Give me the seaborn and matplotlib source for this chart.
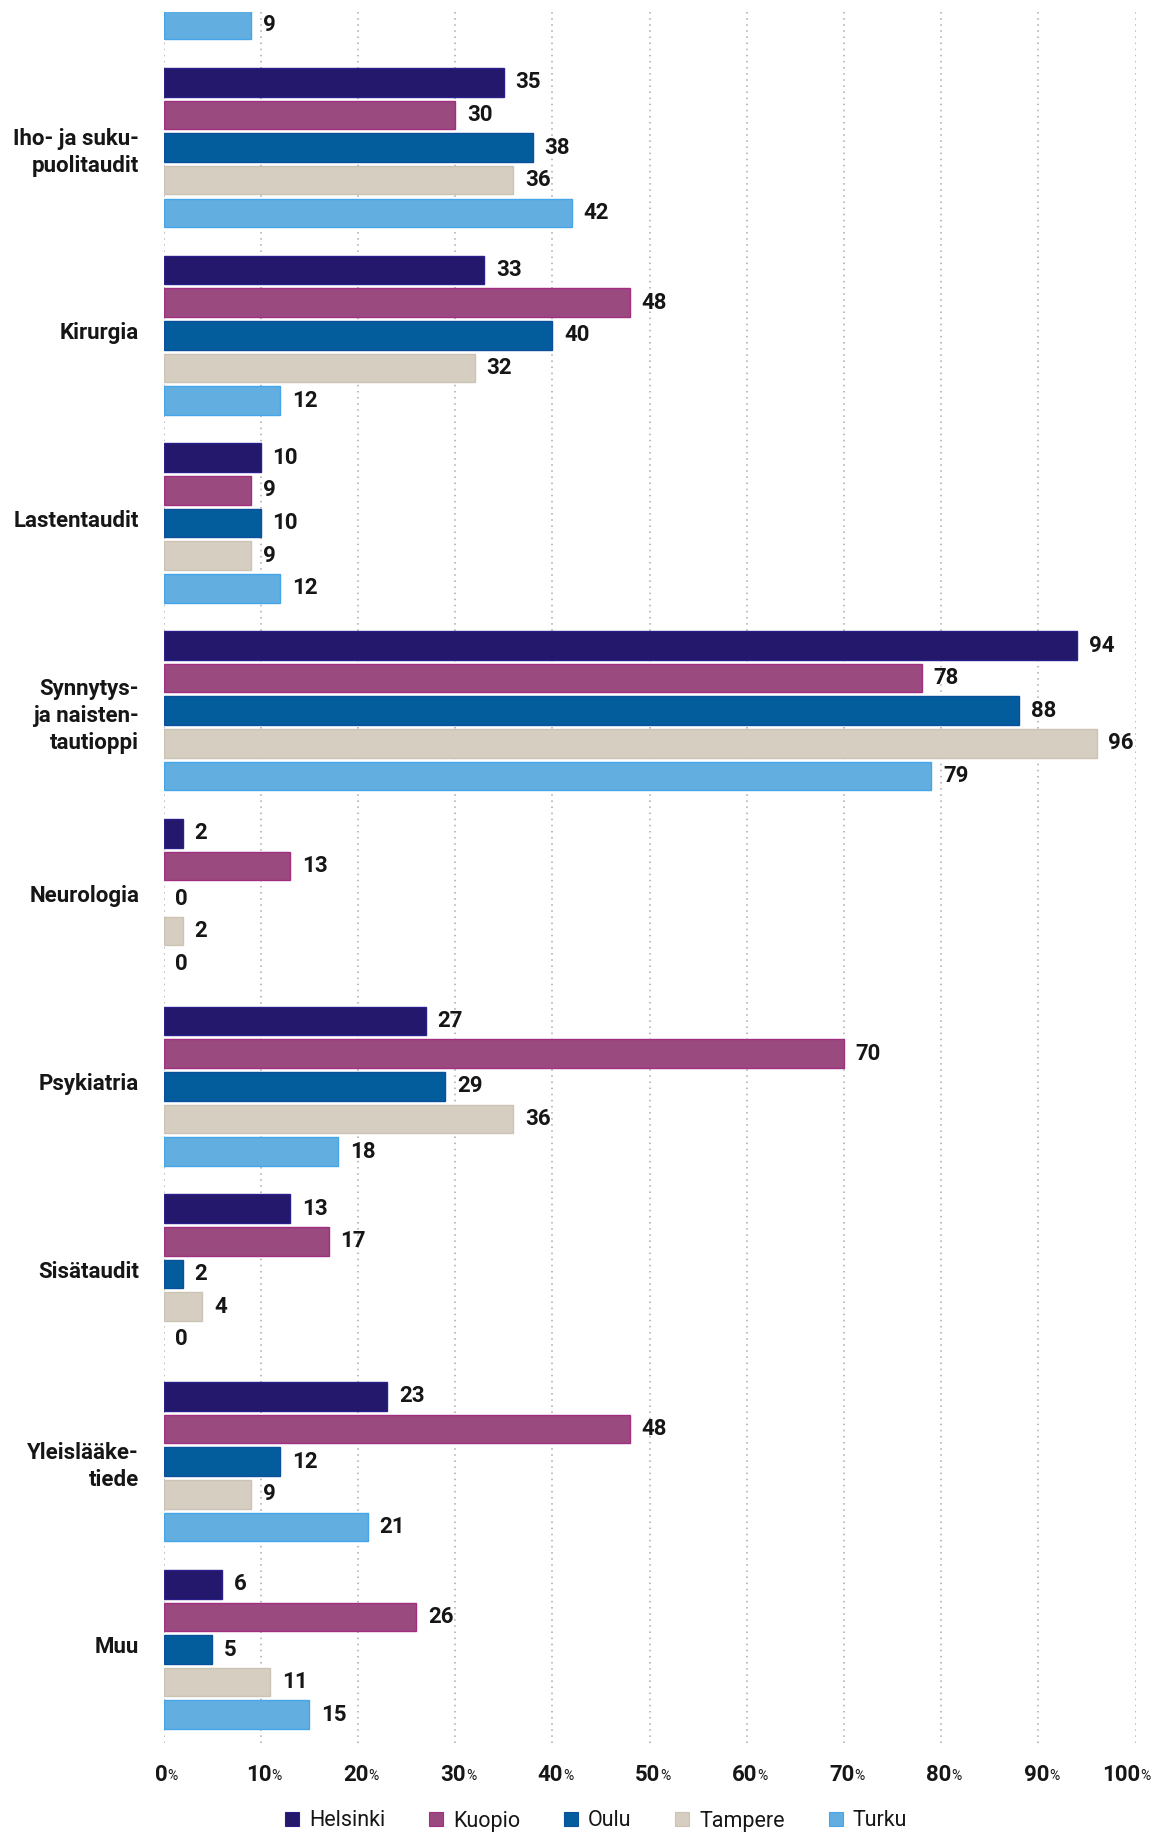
import matplotlib
matplotlib.use("Agg")
import matplotlib.pyplot as plt
import matplotlib.transforms as mtransforms
import pandas as pd
import seaborn as sns
from matplotlib.lines import Line2D

# Cities (hue) and their colours
cities = ["Helsinki", "Kuopio", "Oulu", "Tampere", "Turku"]
colors = ["#23186b", "#9b4a7f", "#035d9d", "#d5cec1", "#62aee1"]
edge_colors = ["#2a1f8a", "#a0307f", "#0a4f9a", "#cbc3b4", "#45a5e8"]

# Specialties (the first group continues from above; only its Turku bar shows)
categories = [
    "",
    "Iho- ja suku-\npuolitaudit",
    "Kirurgia",
    "Lastentaudit",
    "Synnytys-\nja naisten-\ntautioppi",
    "Neurologia",
    "Psykiatria",
    "Sisätaudit",
    "Yleislääke-\ntiede",
    "Muu",
]

# Shares (%) per city: Helsinki, Kuopio, Oulu, Tampere, Turku
top_turku = 9
iho = [35, 30, 38, 36, 42]
kirurgia = [33, 48, 40, 32, 12]
lastentaudit = [10, 9, 10, 9, 12]
synnytys = [94, 78, 88, 96, 79]
neurologia = [2, 13, 0, 2, 0]
psykiatria = [27, 70, 29, 36, 18]
sisataudit = [13, 17, 2, 4, 0]
yleislaake = [23, 48, 12, 9, 21]
muu = [6, 26, 5, 11, 15]

x_ticks = list(range(0, 101, 10))

rows = [{"ala": categories[0], "kaupunki": "Turku", "osuus": top_turku}]
for cat, vals in zip(categories[1:], [iho, kirurgia, lastentaudit, synnytys,
                                      neurologia, psykiatria, sisataudit,
                                      yleislaake, muu]):
    for city, v in zip(cities, vals):
        rows.append({"ala": cat, "kaupunki": city, "osuus": v})
df = pd.DataFrame(rows)

sns.set_theme(style="white")
plt.rcParams["font.family"] = ["Roboto", "DejaVu Sans"]

W, H = 1157, 1834
fig = plt.figure(figsize=(W / 100, H / 100), dpi=100)
ax_left, ax_right = 163.5, 1135.5
ax_top, ax_bottom = 12, 1743
ax = fig.add_axes([ax_left / W, 1 - ax_bottom / H,
                   (ax_right - ax_left) / W, (ax_bottom - ax_top) / H])

sns.barplot(data=df, y="ala", x="osuus", hue="kaupunki", order=categories,
            hue_order=cities, palette=colors, orient="h", width=0.869,
            gap=0.123, saturation=1, legend=False, ax=ax, linewidth=1)

for cont, ec in zip(ax.containers, edge_colors):
    for bar in cont:
        bar.set_edgecolor(ec)
        # zero-length bars leave no visible mark
        bar.set_linewidth(1 if bar.get_width() > 0 else 0)
    ax.bar_label(cont, fmt="%g", padding=8.5, fontsize=16,
                 fontweight="bold", color="#161616")

ax.set_xlim(0, 100)
ax.set_ylim(9.498, 0.278)
ax.set_xticks(x_ticks)
ax.set_xticklabels([])
ax.grid(axis="x", linestyle=(0, (1, 3)), color="#a9a9a9", linewidth=1.1)
ax.grid(axis="y", visible=False)
ax.set_axisbelow(True)
for s in ax.spines.values():
    s.set_visible(False)
ax.set_xlabel("")
ax.set_ylabel("")
ax.tick_params(axis="x", length=0)
ax.tick_params(axis="y", length=0, pad=17.5, labelsize=16,
               labelcolor="#161616")

# Single-line specialty names sit a little above the group centre
lift = mtransforms.ScaledTranslation(0, 5 / 100, fig.dpi_scale_trans)
for lbl in ax.get_yticklabels():
    lbl.set_fontweight("bold")
    lbl.set_linespacing(1.3)
    if "\n" not in lbl.get_text():
        lbl.set_transform(lbl.get_transform() + lift)

# Percentage axis labels: bold number with a small "%" after it
for t in x_ticks:
    dx = -10 if t == 100 else -1.5
    num = ax.annotate(str(t), xy=(t, 0), xycoords=("data", "axes fraction"),
                      xytext=(dx, -23), textcoords="offset points",
                      ha="center", va="center", fontsize=16,
                      fontweight="bold", color="#161616")
    ax.annotate("%", xy=(1, 0.12), xycoords=num, ha="left", va="bottom",
                fontsize=10, color="#161616")

handles = [Line2D([], [], marker="s", linestyle="none", markersize=9.5,
                  markerfacecolor=c, markeredgecolor=ec, markeredgewidth=0.8)
           for c, ec in zip(colors, edge_colors)]
fig.legend(handles, cities, loc="center", bbox_to_anchor=(0.515, 1 - 1821 / H),
           ncol=5, frameon=False, fontsize=15.5, handlelength=0.7,
           handletextpad=0.45, columnspacing=2.0, labelcolor="#161616")

fig.savefig("out.png", dpi=100)
